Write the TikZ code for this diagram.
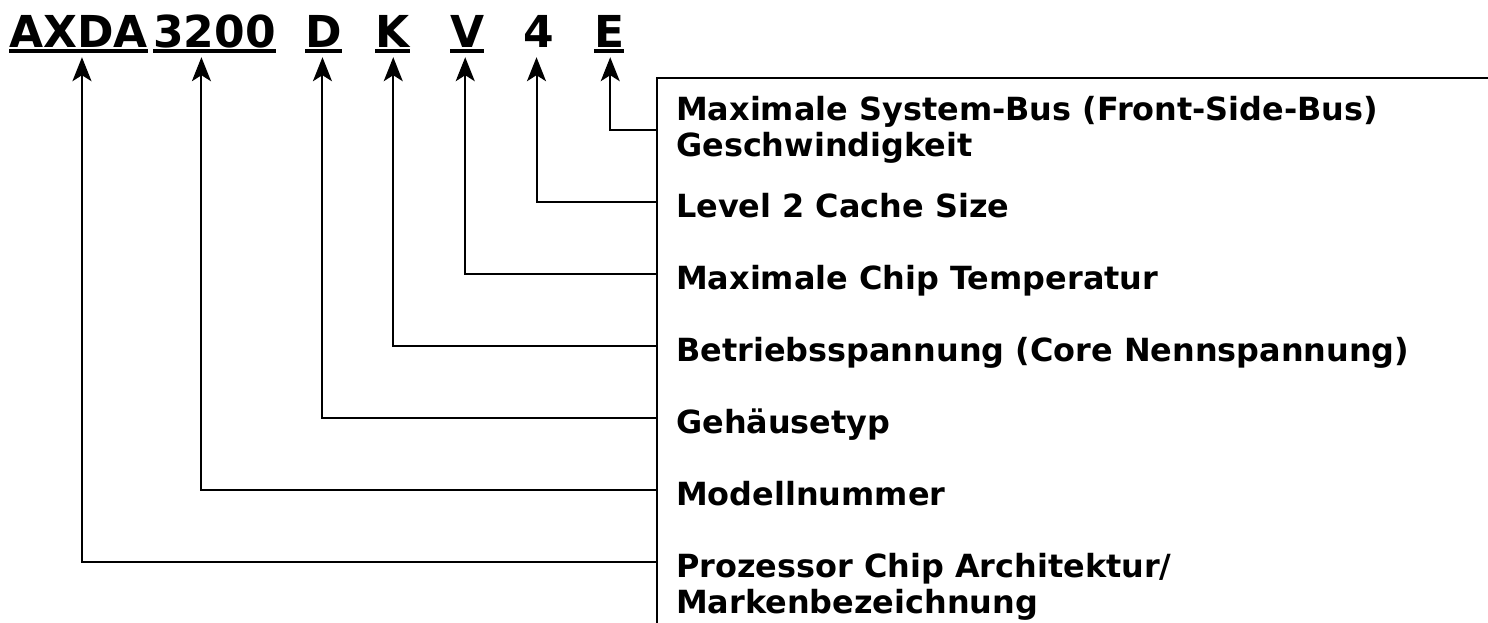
\documentclass[tikz,border=0pt]{standalone}
\usepackage{fontspec}
\setmainfont{DejaVu Sans}
\usetikzlibrary{arrows.meta,positioning}
\tikzset{
  code/.style={anchor=base west, inner sep=0pt, text depth=10pt, font=\fontsize{44}{53}\selectfont\bfseries},
  lbl/.style={inner sep=0pt, align=left, font=\fontsize{31.9}{36}\selectfont\bfseries},
  uline/.style={line width=4pt},
  conn/.style={line width=2pt, -{Stealth[length=24pt, width=19pt, inset=6pt]}},
}
\begin{document}
\begin{tikzpicture}[x=1pt, y=-1pt]
\useasboundingbox (0,0) rectangle (1488,622);
% part number
\node[code] (cA) at (9,47)   {AXDA};
\node[code] (cM) at (153,47) {3200};
\node[code] (cD) at (305,47) {D};
\node[code] (cK) at (375,47) {K};
\node[code] (cV) at (450,47) {V};
\node[code] (c4) at (523,47) {4};
\node[code] (cE) at (594,47) {E};
\draw[uline] ([yshift=-4pt]cA.base west) -- ([yshift=-4pt]cA.base east);
\draw[uline] ([yshift=-4pt]cM.base west) -- ([yshift=-4pt]cM.base east);
\draw[uline] ([yshift=-4pt]cD.base west) -- ([yshift=-4pt]cD.base east);
\draw[uline] ([yshift=-4pt]cK.base west) -- ([yshift=-4pt]cK.base east);
\draw[uline] ([yshift=-4pt]cV.base west) -- ([yshift=-4pt]cV.base east);
\draw[uline] ([yshift=-4pt]cE.base west) -- ([yshift=-4pt]cE.base east);
% legend frame
\draw[line width=2pt] (657,623) -- (657,78) -- (1489,78);
\coordinate (pE) at (657,130);
\coordinate (p4) at (657,202);
\coordinate (pV) at (657,274);
\coordinate (pK) at (657,346);
\coordinate (pD) at (657,418);
\coordinate (pM) at (657,490);
\coordinate (pA) at (657,562);
% legend
\node[lbl, right=19pt of pE] (lE) {Maximale System-Bus (Front-Side-Bus)\\Geschwindigkeit};
\node[lbl, right=19pt of p4, anchor=base west, yshift=-15pt] (l4) {Level 2 Cache Size};
\node[lbl, right=19pt of pV, anchor=base west, yshift=-15pt] (lV) {Maximale Chip Temperatur};
\node[lbl, right=19pt of pK, anchor=base west, yshift=-15pt] (lK) {Betriebsspannung (Core Nennspannung)};
\node[lbl, right=19pt of pD, anchor=base west, yshift=-15pt] (lD) {Gehäusetyp};
\node[lbl, right=19pt of pM, anchor=base west, yshift=-15pt] (lM) {Modellnummer};
\node[lbl, right=19pt of pA, anchor=west, yshift=-25pt] (lA) {Prozessor Chip Architektur/\\Markenbezeichnung};
% connectors
\draw[conn] (pE) -| ([xshift=1pt]cE.south);
\draw[conn] (p4) -| ([xshift=-2pt]c4.south);
\draw[conn] (pV) -| ([xshift=-2pt]cV.south);
\draw[conn] (pK) -| ([xshift=1pt]cK.south);
\draw[conn] (pD) -| ([xshift=-1pt]cD.south);
\draw[conn] (pM) -| ([xshift=-13pt]cM.south);
\draw[conn] (pA) -| ([xshift=3.5pt]cA.south);
\end{tikzpicture}
\end{document}
